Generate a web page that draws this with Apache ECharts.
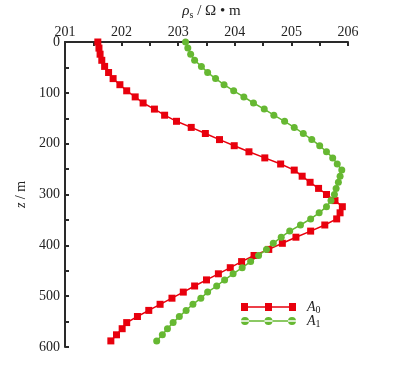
<!DOCTYPE html>
<html>
<head>
<meta charset="utf-8">
<script src="https://cdn.jsdelivr.net/npm/echarts@6/dist/echarts.min.js"></script>
<style>html,body{margin:0;padding:0;background:#fff}#c{width:404px;height:373px}</style>
</head>
<body>
<div id="c"></div>
<script>
// depth (m), same for both curves
const depths = [0,12,24,36,48,60,72,84,96,108,120,132,144,156,168,180,192,204,216,228,240,252,264,276,288,300,312,324,336,348,360,372,384,396,408,420,432,444,456,468,480,492,504,516,528,540,552,564,576,588];
const rhoA0 = [201.58,201.60,201.62,201.65,201.70,201.77,201.85,201.97,202.09,202.24,202.38,202.58,202.76,202.97,203.23,203.48,203.73,203.99,204.25,204.53,204.81,205.05,205.19,205.33,205.48,205.62,205.77,205.90,205.86,205.80,205.59,205.34,205.08,204.84,204.60,204.34,204.12,203.92,203.71,203.50,203.29,203.09,202.89,202.68,202.48,202.28,202.09,202.01,201.91,201.81];
const rhoA1 = [203.13,203.17,203.22,203.29,203.41,203.52,203.66,203.81,203.98,204.16,204.33,204.52,204.69,204.88,205.05,205.21,205.36,205.50,205.62,205.73,205.81,205.89,205.86,205.83,205.79,205.76,205.70,205.62,205.49,205.34,205.16,204.97,204.82,204.68,204.56,204.42,204.28,204.13,203.97,203.82,203.68,203.52,203.40,203.26,203.14,203.02,202.91,202.81,202.72,202.62];
const xTicks = [201,202,203,204,205,206];
const yTicks = [0,100,200,300,400,500,600];

const RED = '#e8000d', GREEN = '#66b832';
const FONT = '"Liberation Serif", "Times New Roman", serif';
const chart = echarts.init(document.getElementById('c'), null, {renderer:'canvas'});
const pairs = (xs) => xs.map((v,i) => [v, depths[i]]);
const legendText = {fontFamily: FONT, fontSize: 14, color: '#222',
  rich: {i: {fontFamily: FONT, fontStyle: 'italic', fontSize: 14, color: '#222', lineHeight: 12, padding: [0,0,0,6]},
         s: {fontFamily: FONT, fontSize: 10, color: '#222', lineHeight: 12, padding: [6,0,0,0]}}};
const legendBase = {orient: 'vertical', left: 241, itemWidth: 55, itemHeight: 8, padding: 0,
  textStyle: legendText, formatter: n => n === 'A0' ? '{i|A}{s|0}' : '{i|A}{s|1}'};
chart.setOption({
  animation: false,
  grid: {left: 65, right: 56, top: 42, bottom: 26, containLabel: false, outerBoundsMode: 'none'},
  xAxis: {
    type: 'value', position: 'top', min: 201, max: 206, interval: 0.5,
    name: '{i|ρ}{s|s}{n| / Ω • m}', nameLocation: 'middle', nameGap: 21,
    nameTextStyle: {rich: {
      i: {fontFamily: FONT, fontStyle: 'italic', fontSize: 15, color: '#222'},
      s: {fontFamily: FONT, fontSize: 10, color: '#222', padding: [8,0,0,0]},
      n: {fontFamily: FONT, fontSize: 15, color: '#222'}
    }, padding: [0,0,0,10]},
    axisLine: {show: true, lineStyle: {color: '#2a2a2a', width: 2}},
    axisTick: {show: true, inside: true, length: 4, lineStyle: {color: '#2a2a2a', width: 2}},
    axisLabel: {fontFamily: FONT, fontSize: 14, color: '#222', margin: 3,
      formatter: v => xTicks.includes(v) ? String(v) : ''},
    splitLine: {show: false}
  },
  yAxis: {
    type: 'value', inverse: true, min: 0, max: 600, interval: 50,
    name: '{i|z} / m', nameLocation: 'middle', nameGap: 30, nameRotate: 90,
    nameTextStyle: {fontFamily: FONT, fontSize: 14, color: '#222',
      rich: {i: {fontFamily: FONT, fontStyle: 'italic', fontSize: 14, color: '#222'}}},
    axisLine: {show: true, lineStyle: {color: '#2a2a2a', width: 2}},
    axisTick: {show: true, inside: true, length: 4, lineStyle: {color: '#2a2a2a', width: 2}},
    axisLabel: {fontFamily: FONT, fontSize: 14, color: '#222', margin: 5,
      formatter: v => yTicks.includes(v) ? String(v) : ''},
    splitLine: {show: false}
  },
  legend: [
    Object.assign({}, legendBase, {top: 299, data: [
      {name: 'A0', icon: 'path://M0,0H7V8H0Z M24,0H31V8H24Z M48,0H55V8H48Z M0,3.2H55V4.8H0Z'}]}),
    Object.assign({}, legendBase, {top: 313, data: [
      {name: 'A1', icon: 'path://M0,4a4,4 0 1,0 8,0a4,4 0 1,0 -8,0Z M23.5,4a4,4 0 1,0 8,0a4,4 0 1,0 -8,0Z M47,4a4,4 0 1,0 8,0a4,4 0 1,0 -8,0Z M0,3.2H55V4.8H0Z'}]})
  ],
  series: [
    {name: 'A0', type: 'line', data: pairs(rhoA0), symbol: 'rect', symbolSize: 7,
     itemStyle: {color: RED}, lineStyle: {color: RED, width: 1.5}},
    {name: 'A1', type: 'line', data: pairs(rhoA1), symbol: 'circle', symbolSize: 7,
     itemStyle: {color: GREEN}, lineStyle: {color: GREEN, width: 1.5}}
  ]
});
</script>
</body>
</html>
